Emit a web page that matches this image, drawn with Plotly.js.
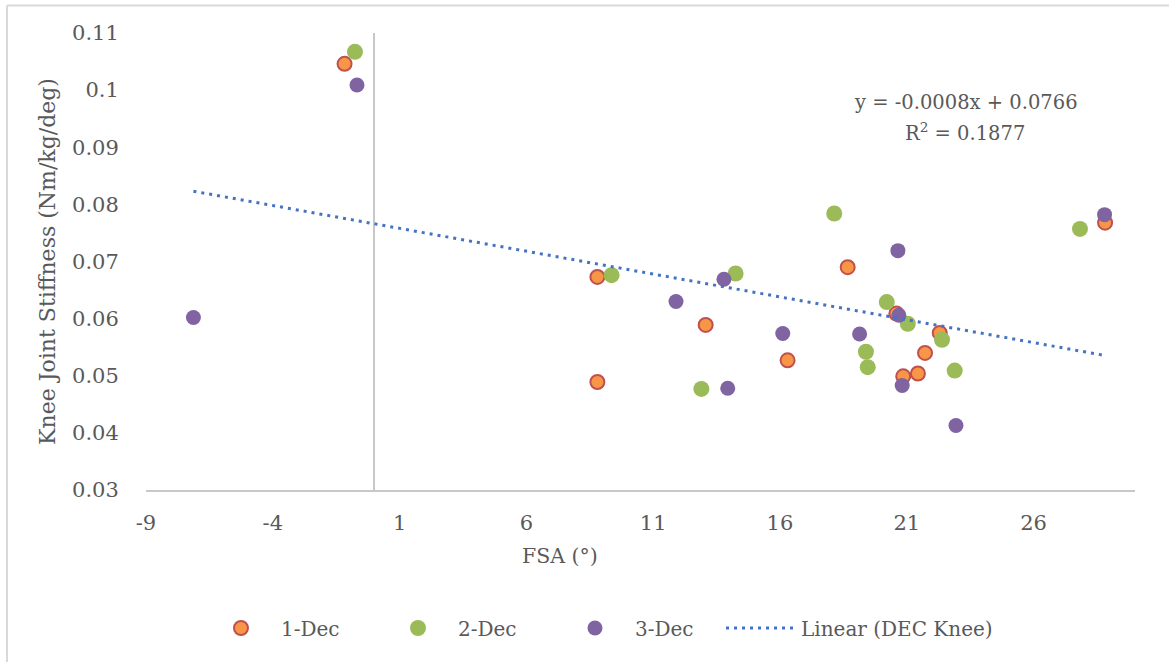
<!DOCTYPE html>
<html>
<head>
<meta charset="utf-8">
<script src="https://cdn.plot.ly/plotly-3.0.1.min.js"></script>
<style>
  html, body { margin: 0; padding: 0; background: #ffffff; }
  #chart { width: 1169px; height: 662px; }
</style>
</head>
<body>
<div id="chart"></div>
<script>
// ---- Data ----
const dec1X = [-1.17, 8.80, 8.80, 13.07, 16.30, 18.67, 20.59, 20.86, 21.44, 21.72, 22.30, 28.82];
const dec1Y = [0.1046, 0.0673, 0.0489, 0.0589, 0.0527, 0.0690, 0.0609, 0.0499, 0.0504, 0.0540, 0.0575, 0.0768];

const dec2X = [-0.76, 9.36, 12.90, 14.25, 18.14, 19.39, 19.46, 20.21, 21.04, 22.39, 22.89, 27.83];
const dec2Y = [0.1067, 0.0676, 0.0477, 0.0679, 0.0784, 0.0542, 0.0515, 0.0629, 0.0591, 0.0563, 0.0509, 0.0757];

const dec3X = [-7.13, -0.68, 11.90, 13.79, 13.94, 16.11, 19.14, 20.65, 20.69, 20.82, 22.94, 28.80];
const dec3Y = [0.0602, 0.1009, 0.0630, 0.0669, 0.0478, 0.0574, 0.0573, 0.0719, 0.0606, 0.0483, 0.0413, 0.0782];

// Trendline as labelled on the chart
const trendSlope = -0.0008;
const trendIntercept = 0.0766;
const equationText = "y = -0.0008x + 0.0766";
const r2Text = "R<sup>2</sup> = 0.1877";

const seriesNames = ["1-Dec", "2-Dec", "3-Dec", "Linear (DEC Knee)"];

const xTickVals = [-9, -4, 1, 6, 11, 16, 21, 26];
const xTickText = ["-9", "-4", "1", "6", "11", "16", "21", "26"];
const yTickVals = [0.03, 0.04, 0.05, 0.06, 0.07, 0.08, 0.09, 0.1, 0.11];
const yTickText = ["0.03", "0.04", "0.05", "0.06", "0.07", "0.08", "0.09", "0.1", "0.11"];

const xAxisTitle = "FSA (°)";
const yAxisTitle = "Knee Joint Stiffness (Nm/kg/deg)";

// ---- Build traces ----
const allX = dec1X.concat(dec2X, dec3X);
const trendX = [Math.min.apply(null, allX), Math.max.apply(null, allX)];
const trendY = trendX.map(x => trendSlope * x + trendIntercept);

const FONT = "DejaVu Serif";
const TXT = "#595959";

const traces = [
  {
    x: dec1X, y: dec1Y, type: "scatter", mode: "markers", name: seriesNames[0],
    marker: { color: "#F79646", size: 14, line: { color: "#C0504D", width: 2 } }
  },
  {
    x: dec2X, y: dec2Y, type: "scatter", mode: "markers", name: seriesNames[1],
    marker: { color: "#9BBB59", size: 16 }
  },
  {
    x: dec3X, y: dec3Y, type: "scatter", mode: "markers", name: seriesNames[2],
    marker: { color: "#8064A2", size: 15 }
  },
  {
    x: trendX, y: trendY, type: "scatter", mode: "lines", name: seriesNames[3],
    legend: "legend2",
    line: { color: "#4472C4", width: 3, dash: "3px,5px" }
  }
];

const legendFont = { family: FONT, size: 20, color: TXT };

const layout = {
  width: 1169, height: 662,
  margin: { l: 146, r: 34, t: 33, b: 172 },
  paper_bgcolor: "#ffffff", plot_bgcolor: "#ffffff",
  font: { family: FONT, size: 20, color: TXT },
  showlegend: true,
  legend: {
    orientation: "h", x: 0.0556, y: -0.302, xanchor: "left", yanchor: "middle",
    entrywidth: 92, itemwidth: 70,
    font: legendFont,
    bgcolor: "rgba(0,0,0,0)"
  },
  legend2: {
    orientation: "h", x: 0.5814, y: -0.302, xanchor: "left", yanchor: "middle",
    itemwidth: 70,
    font: legendFont,
    bgcolor: "rgba(0,0,0,0)"
  },
  xaxis: {
    range: [-9, 30], tickvals: xTickVals, ticktext: xTickText,
    showgrid: false, zeroline: true, zerolinecolor: "#C8C8C8", zerolinewidth: 2,
    showline: true, linecolor: "#C8C8C8", linewidth: 2,
    ticks: "outside", ticklen: 13, tickcolor: "rgba(0,0,0,0)",
    tickfont: { family: FONT, size: 21, color: TXT }
  },
  yaxis: {
    range: [0.03, 0.11], tickvals: yTickVals, ticktext: yTickText,
    showgrid: false, zeroline: false, showline: false,
    ticks: "outside", ticklen: 22, tickcolor: "rgba(0,0,0,0)",
    tickfont: { family: FONT, size: 21, color: TXT },
    title: { text: yAxisTitle, font: { family: FONT, size: 22, color: TXT }, standoff: 10 }
  },
  annotations: [
    { text: equationText, xref: "paper", yref: "paper", x: 0.8291, y: 0.849,
      xanchor: "center", yanchor: "middle", showarrow: false,
      font: { family: FONT, size: 19.5, color: TXT } },
    { text: r2Text, xref: "paper", yref: "paper", x: 0.8281, y: 0.7834,
      xanchor: "center", yanchor: "middle", showarrow: false,
      font: { family: FONT, size: 19.5, color: TXT } },
    { text: xAxisTitle, xref: "paper", yref: "paper", x: 0.4186, y: -0.1444,
      xanchor: "center", yanchor: "middle", showarrow: false,
      font: { family: FONT, size: 20.5, color: TXT } }
  ],
  shapes: [
    { type: "line", xref: "paper", yref: "paper", x0: -0.14055, x1: 1.0344, y0: 1.0602, y1: 1.0602,
      line: { color: "#D9D9D9", width: 2 } },
    { type: "line", xref: "paper", yref: "paper", x0: -0.14055, x1: -0.14055, y0: 1.0602, y1: -0.3764,
      line: { color: "#D9D9D9", width: 2 } }
  ]
};

Plotly.newPlot("chart", traces, layout, { displayModeBar: false, staticPlot: true });
</script>
</body>
</html>
